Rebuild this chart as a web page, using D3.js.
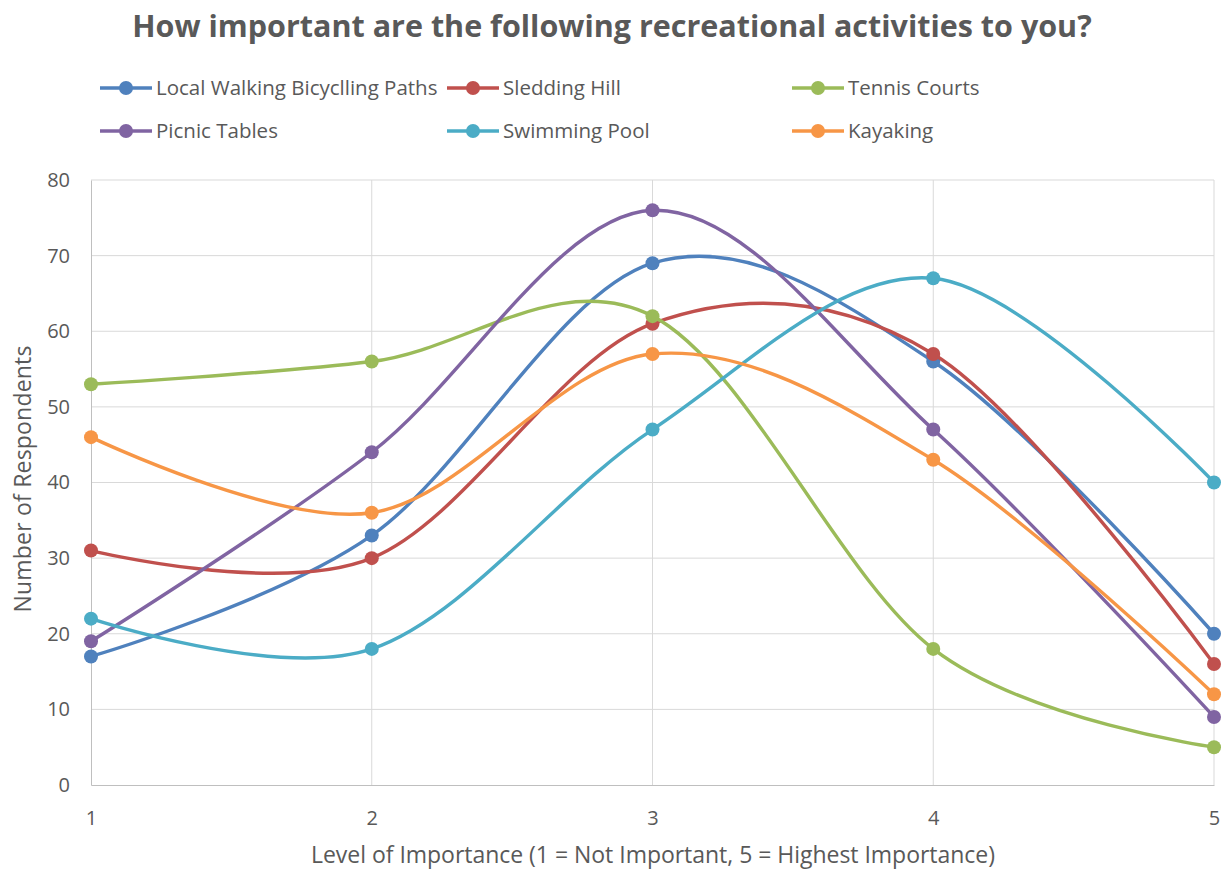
<!DOCTYPE html>
<html><head><meta charset="utf-8">
<script src="https://cdn.jsdelivr.net/npm/d3@7"></script>
<style>
body{margin:0;background:#fff;}
text{font-family:"Open Sans",sans-serif;}
</style></head>
<body><svg id="c" width="1226" height="870"></svg>
<script>
const levels = [1, 2, 3, 4, 5];
const seriesNames = ["Local Walking Bicyclling Paths", "Sledding Hill", "Tennis Courts", "Picnic Tables", "Swimming Pool", "Kayaking"];
const walking = [17, 33, 69, 56, 20];
const sledding = [31, 30, 61, 57, 16];
const tennis = [53, 56, 62, 18, 5];
const picnic = [19, 44, 76, 47, 9];
const swimming = [22, 18, 47, 67, 40];
const kayaking = [46, 36, 57, 43, 12];
const colors = ["#4F81BD", "#C0504D", "#9BBB59", "#8064A2", "#4BACC6", "#F79646"];
const yTicks = [0, 10, 20, 30, 40, 50, 60, 70, 80];
const title = "How important are the following recreational activities to you?";
const xTitle = "Level of Importance (1 = Not Important, 5 = Highest Importance)";
const yTitle = "Number of Respondents";

const allValues = [walking, sledding, tennis, picnic, swimming, kayaking];
const svg = d3.select("#c");
const x = d3.scaleLinear().domain([1, 5]).range([91, 1214]);
const y = d3.scaleLinear().domain([0, 80]).range([785, 180]);
const grey = "#595959";

// gridlines
svg.append("g").selectAll("line").data(yTicks.slice(1)).join("line")
  .attr("x1", x(1)).attr("x2", x(5)).attr("y1", d => y(d)).attr("y2", d => y(d))
  .attr("stroke", "#d9d9d9").attr("stroke-width", 1);
svg.append("g").selectAll("line").data(levels.slice(1)).join("line")
  .attr("x1", d => x(d)).attr("x2", d => x(d)).attr("y1", y(0)).attr("y2", y(80))
  .attr("stroke", "#d9d9d9").attr("stroke-width", 1);

// axes
const yAxis = svg.append("g").attr("transform", `translate(${x(1)},0)`)
  .call(d3.axisLeft(y).tickValues(yTicks).tickSize(0).tickPadding(21));
yAxis.select(".domain").attr("stroke", "#bfbfbf");
yAxis.selectAll("text").attr("fill", grey).style("font-size", "20px");
const xAxis = svg.append("g").attr("transform", `translate(0,${y(0)})`)
  .call(d3.axisBottom(x).tickValues(levels).tickFormat(d3.format("d")).tickSize(0).tickPadding(26));
xAxis.select(".domain").attr("stroke", "#bfbfbf");
xAxis.selectAll("text").attr("fill", grey).style("font-size", "20px");

// series
const line = d3.line().x((d, i) => x(levels[i])).y(d => y(d)).curve(d3.curveCardinal.tension(0));
allValues.forEach((vals, s) => {
  const g = svg.append("g");
  g.append("path").attr("d", line(vals)).attr("fill", "none")
    .attr("stroke", colors[s]).attr("stroke-width", 3.4).attr("stroke-linecap", "round");
  g.selectAll("circle").data(vals).join("circle")
    .attr("cx", (d, i) => x(levels[i])).attr("cy", d => y(d)).attr("r", 7)
    .attr("fill", colors[s]);
});

// title
svg.append("text").attr("x", 612).attr("y", 37).attr("text-anchor", "middle")
  .attr("fill", grey).style("font-size", "30.5px").style("font-weight", "bold").text(title);

// axis titles
svg.append("text").attr("x", 653).attr("y", 863).attr("text-anchor", "middle")
  .attr("fill", grey).style("font-size", "23px").attr("textLength", 684).text(xTitle);
svg.append("text").attr("transform", "translate(31,479) rotate(-90)").attr("text-anchor", "middle")
  .attr("fill", grey).style("font-size", "23px").attr("textLength", 267).text(yTitle);

// legend
const legX = [100, 447, 792];
const legY = [88, 131];
seriesNames.forEach((n, i) => {
  const lx = legX[i % 3], ly = legY[Math.floor(i / 3)];
  const g = svg.append("g");
  g.append("line").attr("x1", lx).attr("x2", lx + 52).attr("y1", ly).attr("y2", ly)
    .attr("stroke", colors[i]).attr("stroke-width", 3.4);
  g.append("circle").attr("cx", lx + 26).attr("cy", ly).attr("r", 7).attr("fill", colors[i]);
  g.append("text").attr("x", lx + 56).attr("y", ly + 7).attr("fill", grey)
    .style("font-size", "20.5px").text(n);
});
</script></body></html>
